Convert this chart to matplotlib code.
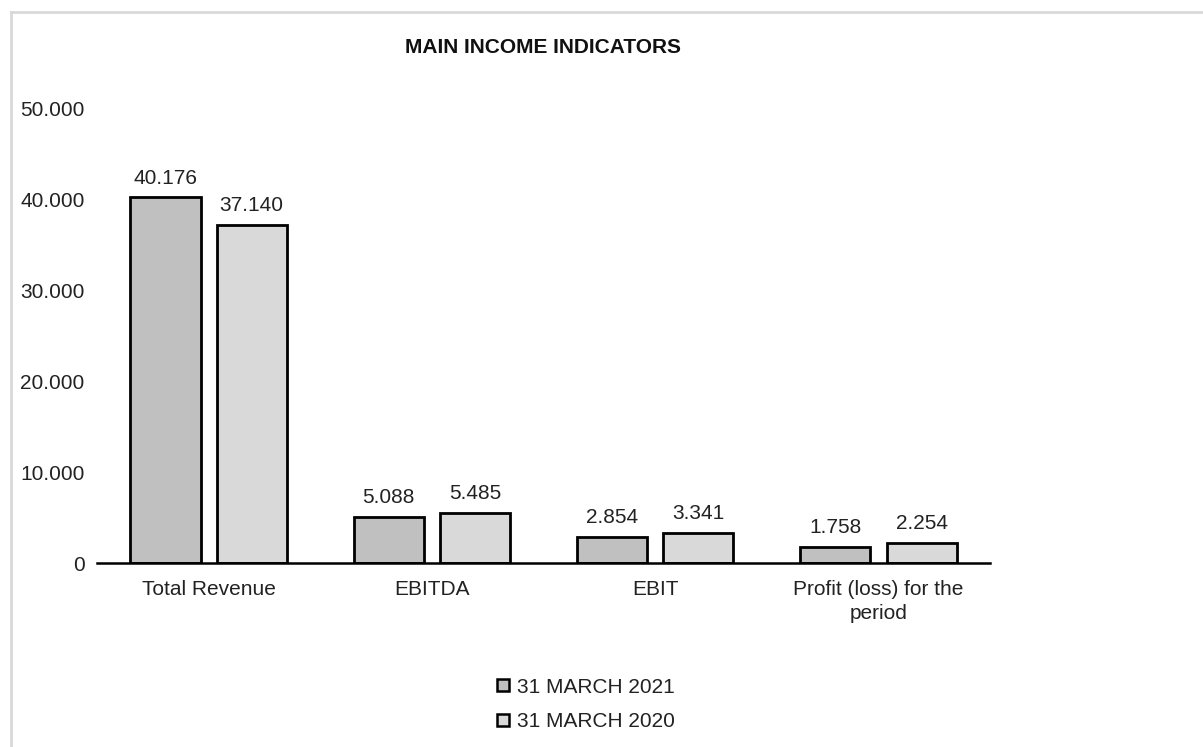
import matplotlib.pyplot as plt
import numpy as np
from matplotlib.lines import Line2D

plt.rcParams['font.family'] = ['Liberation Sans', 'DejaVu Sans']

categories = ['Total Revenue', 'EBITDA', 'EBIT', 'Profit (loss) for the\nperiod']
values_2021 = [40176, 5088, 2854, 1758]
values_2020 = [37140, 5485, 3341, 2254]
series_names = ['31 MARCH 2021', '31 MARCH 2020']
y_ticks = [0, 10000, 20000, 30000, 40000, 50000]


def fmt(v):
    # thousands separator as a dot
    return f'{v:,}'.replace(',', '.')


fig = plt.figure(figsize=(12.03, 7.47), dpi=100)
ax = fig.add_axes([0.0806, 0.2463, 0.7425, 0.6091])

x = np.arange(len(categories))
w = 0.314
gap = 0.072
off = (w + gap) / 2
b1 = ax.bar(x - off, values_2021, w, color='#c0c0c0', edgecolor='black', linewidth=2, label=series_names[0])
b2 = ax.bar(x + off, values_2020, w, color='#d9d9d9', edgecolor='black', linewidth=2, label=series_names[1])

for bars, vals in [(b1, values_2021), (b2, values_2020)]:
    for rect, v in zip(bars, vals):
        ax.annotate(fmt(v), (rect.get_x() + rect.get_width() / 2, v),
                    xytext=(0, 7), textcoords='offset points',
                    ha='center', va='bottom', fontsize=15, color='#222222')

ax.set_xlim(-0.5, len(categories) - 0.5)
ax.set_ylim(0, 50000)
ax.set_yticks(y_ticks)
ax.set_yticklabels([fmt(t) for t in y_ticks], fontsize=15, color='#222222')
ax.tick_params(axis='y', length=0, pad=9)
ax.set_xticks(x)
ax.set_xticklabels(categories, fontsize=15, color='#222222', linespacing=1.35)
ax.tick_params(axis='x', length=0, pad=12)
for s in ['top', 'right', 'left']:
    ax.spines[s].set_visible(False)
ax.spines['bottom'].set_linewidth(1.8)

fig.text(0.451, 0.937, 'MAIN INCOME INDICATORS', ha='center', va='center',
         fontsize=15, fontweight='bold', color='#111111')

handles = [Line2D([], [], marker='s', linestyle='none', markersize=8,
                  markerfacecolor=c, markeredgecolor='black', markeredgewidth=1.8)
           for c in ['#c0c0c0', '#d9d9d9']]
fig.legend(handles, series_names, loc='center', bbox_to_anchor=(0.486, 0.057),
           ncol=1, frameon=False, fontsize=15, handletextpad=0.3,
           labelspacing=0.75, handlelength=0.8, labelcolor='#222222')

# light frame along top and left
fig.add_artist(Line2D([0.0095, 1.0], [0.9835, 0.9835], transform=fig.transFigure,
                      color='#d9d9d9', linewidth=2))
fig.add_artist(Line2D([0.0095, 0.0095], [0.0, 0.9835], transform=fig.transFigure,
                      color='#d9d9d9', linewidth=2))

fig.savefig('out.png', dpi=100)
